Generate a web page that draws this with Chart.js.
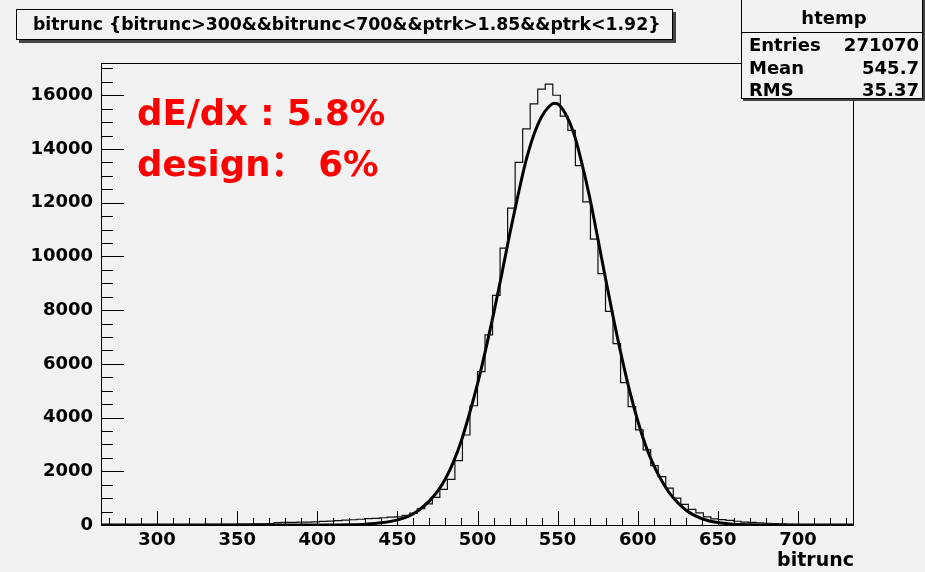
<!DOCTYPE html>
<html lang="en">
<head>
<meta charset="UTF-8">
<title>bitrunc</title>
<script src="https://cdn.jsdelivr.net/npm/chart.js"></script>
<style>
    * {
        margin: 0;
        padding: 0;
        box-sizing: border-box;
    }

    body {
        background: #f2f2f2;
        width: 925px;
        height: 572px;
        overflow: hidden;
    }

    .chart-box {
        position: relative;
        width: 925px;
        height: 572px;
    }
</style>
</head>
<body>
<div class="chart-box">
    <canvas id="histChart"></canvas>
</div>

<script>
    // htemp binning: 100 bins between xMin and xMax
    const xMin = 265;
    const xMax = 735;
    const yMax = 17200;

    // bin contents
    const binCounts = [
        0, 0, 0, 0, 0, 0, 0, 5, 10, 10,
        12, 14, 15, 17, 20, 22, 25, 28, 32, 36,
        40, 45, 50, 90, 95, 100, 105, 110, 115, 135,
        145, 165, 185, 195, 215, 235, 245, 270, 290, 300,
        355, 440, 605, 790, 1030, 1330, 1700, 2400, 3350, 4440,
        5710, 7080, 8550, 10310, 11800, 13500, 14750, 15680, 16230, 16410,
        16000, 15220, 14690, 13380, 12030, 10640, 9360, 7950, 6750, 5300,
        4410, 3540, 2800, 2210, 1800, 1370, 1000, 770, 585, 455,
        305, 225, 200, 170, 140, 110, 95, 80, 65, 50,
        40, 25, 10, 0, 0, 0, 0, 0, 0, 0
    ];

    // gaussian fit curve
    const fitX = [265, 400, 410, 420, 430, 440, 450, 460, 470, 475,
        480, 485, 490, 495, 500, 505, 510, 515, 520, 525,
        530, 535, 540, 545, 548, 550, 555, 560, 565, 570,
        575, 580, 585, 590, 595, 600, 605, 610, 615, 620,
        630, 640, 650, 660, 670, 680, 690, 735];
    const fitY = [0, 0, 3, 10, 30, 80, 190, 420, 900, 1250,
        1720, 2350, 3150, 4150, 5250, 6500, 7850, 9300, 10800, 12200,
        13500, 14500, 15200, 15600, 15700, 15680, 15300, 14600, 13500, 12200,
        10700, 9150, 7650, 6250, 4980, 3880, 2950, 2220, 1650, 1180,
        560, 240, 90, 30, 10, 2, 0, 0];

    const xTickValues = [300, 350, 400, 450, 500, 550, 600, 650, 700];
    const yTickValues = [0, 2000, 4000, 6000, 8000, 10000, 12000, 14000, 16000];

    const titleText = 'bitrunc {bitrunc>300&&bitrunc<700&&ptrk>1.85&&ptrk<1.92}';
    const statsName = 'htemp';
    const statsLabels = ['Entries', 'Mean', 'RMS'];
    const statsValues = ['271070', '545.7', '35.37'];
    const noteLines = ['dE/dx : 5.8%', 'design： 6%'];

    const fontFamily = '"DejaVu Sans", "Noto Sans CJK SC", sans-serif';

    // step outline: one point on each lower bin edge plus the closing edge
    const binWidth = (xMax - xMin) / binCounts.length;
    const histPoints = binCounts.map((c, i) => ({ x: xMin + i * binWidth, y: c }));
    histPoints.push({ x: xMax, y: binCounts[binCounts.length - 1] });

    const fitPoints = fitX.map((x, i) => ({ x: x, y: fitY[i] }));

    function line(c, x1, y1, x2, y2) {
        c.beginPath();
        c.moveTo(x1, y1);
        c.lineTo(x2, y2);
        c.stroke();
    }

    // ROOT style frame, inward ticks, title pave, stats box and the red note
    const rootFrame = {
        id: 'rootFrame',
        beforeDraw(chart) {
            const c = chart.ctx;
            c.save();
            c.fillStyle = '#f2f2f2';
            c.fillRect(0, 0, chart.width, chart.height);
            c.restore();
        },
        afterDraw(chart) {
            const c = chart.ctx;
            const a = chart.chartArea;
            const x = chart.scales.x;
            const y = chart.scales.y;
            c.save();
            c.strokeStyle = '#000';
            c.lineWidth = 1;

            // frame
            c.strokeRect(a.left + 0.5, a.top + 0.5, a.right - a.left - 1, a.bottom - a.top);

            // x ticks (major every 50, minor every 10)
            for (let v = 270; v <= 730; v += 10) {
                const px = Math.round(x.getPixelForValue(v)) + 0.5;
                line(c, px, a.bottom, px, a.bottom - (v % 50 === 0 ? 14 : 7));
            }
            // y ticks (major every 2000, minor every 500)
            for (let v = 0; v <= 17000; v += 500) {
                const py = Math.round(y.getPixelForValue(v)) + 0.5;
                line(c, a.left, py, a.left + (v % 2000 === 0 ? 23 : 12), py);
            }

            // title pave with shadow
            c.fillStyle = '#444';
            c.fillRect(19, 12, 657, 31);
            c.fillStyle = '#f2f2f2';
            c.fillRect(16, 9, 657, 31);
            c.strokeRect(16.5, 9.5, 656, 30);
            c.fillStyle = '#000';
            c.font = 'bold 17.3px ' + fontFamily;
            c.textBaseline = 'alphabetic';
            c.textAlign = 'left';
            c.fillText(titleText, 33, 30);

            // stats box
            c.fillStyle = '#444';
            c.fillRect(743, 0, 182, 101);
            c.fillStyle = '#f2f2f2';
            c.fillRect(741, 0, 182, 99);
            c.strokeRect(741.5, -0.5, 181, 99);
            line(c, 741, 32.5, 923, 32.5);
            c.fillStyle = '#000';
            c.font = 'bold 18px ' + fontFamily;
            c.textAlign = 'center';
            c.fillText(statsName, 834, 24);
            const rowBase = [51, 74, 96];
            statsLabels.forEach((lab, i) => {
                c.textAlign = 'left';
                c.fillText(lab, 749, rowBase[i]);
                c.textAlign = 'right';
                c.fillText(statsValues[i], 919, rowBase[i]);
            });

            // red note
            c.fillStyle = '#ff0000';
            c.font = 'bold 35.5px ' + fontFamily;
            c.textAlign = 'left';
            c.fillText(noteLines[0], 137, 125);
            c.fillText(noteLines[1], 137, 176);
            c.restore();
        }
    };

    const tickFont = { family: fontFamily, weight: 'bold', size: 18 };

    const ctx = document.getElementById('histChart').getContext('2d');
    new Chart(ctx, {
        type: 'line',
        data: {
            datasets: [{
                label: 'htemp',
                data: histPoints,
                stepped: 'before',
                borderColor: '#111',
                borderWidth: 1.2,
                pointRadius: 0,
                fill: false
            }, {
                label: 'fit',
                data: fitPoints,
                borderColor: '#000',
                borderWidth: 3,
                pointRadius: 0,
                fill: false,
                cubicInterpolationMode: 'monotone'
            }]
        },
        options: {
            responsive: true,
            maintainAspectRatio: false,
            animation: false,
            layout: {
                padding: { left: 0, top: 63, right: 71, bottom: 0 }
            },
            plugins: {
                legend: { display: false },
                tooltip: { enabled: false }
            },
            scales: {
                x: {
                    type: 'linear',
                    min: xMin,
                    max: xMax,
                    grid: { display: false, drawTicks: false },
                    border: { display: false },
                    afterBuildTicks: s => { s.ticks = xTickValues.map(v => ({ value: v })); },
                    afterFit: s => { s.height = 47; },
                    ticks: {
                        font: tickFont,
                        color: '#000',
                        padding: 5,
                        maxRotation: 0,
                        autoSkip: false,
                        callback: v => String(v)
                    },
                    title: {
                        display: true,
                        text: 'bitrunc',
                        align: 'end',
                        color: '#000',
                        font: { family: fontFamily, weight: 'bold', size: 19 },
                        padding: { top: 0, bottom: 0 }
                    }
                },
                y: {
                    min: 0,
                    max: yMax,
                    grid: { display: false, drawTicks: false },
                    border: { display: false },
                    afterBuildTicks: s => { s.ticks = yTickValues.map(v => ({ value: v })); },
                    afterFit: s => { s.width = 101; },
                    ticks: {
                        font: tickFont,
                        color: '#000',
                        padding: 8,
                        autoSkip: false,
                        callback: v => String(v)
                    }
                }
            }
        },
        plugins: [rootFrame]
    });
</script>
</body>
</html>
